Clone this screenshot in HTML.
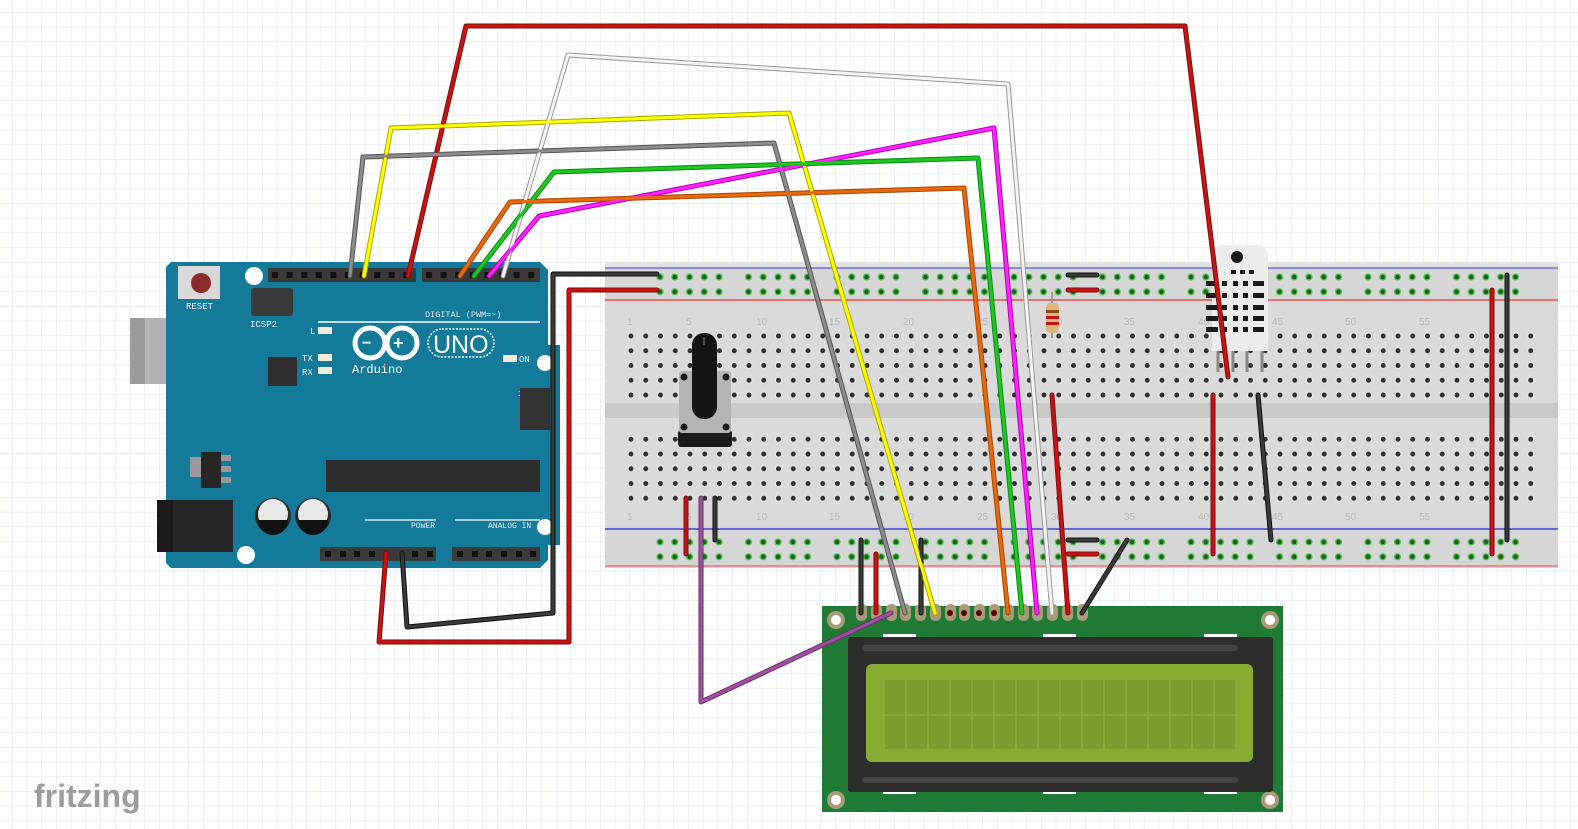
<!DOCTYPE html>
<html><head><meta charset="utf-8"><style>
html,body{margin:0;padding:0;width:1578px;height:829px;overflow:hidden;background:#fff}
svg{display:block}
.m{font-family:"Liberation Mono","DejaVu Sans Mono",monospace}
.s{font-family:"Liberation Sans",sans-serif}
</style></head><body>
<svg width="1578" height="829" viewBox="0 0 1578 829" xmlns="http://www.w3.org/2000/svg">
<defs>
<pattern id="grid" x="12" y="12" width="14.7" height="14.7" patternUnits="userSpaceOnUse">
<path d="M0 0H14.7M0 0V14.7" stroke="#dfe6ef" stroke-width="1.2" fill="none"/>
</pattern>
<pattern id="holes" x="623.6" y="328.6" width="14.75" height="14.75" patternUnits="userSpaceOnUse">
<circle cx="7.4" cy="7.4" r="3.6" fill="#e8e8e8"/><circle cx="7.4" cy="7.4" r="2.5" fill="#2f2f2f"/>
</pattern>
<pattern id="rail" x="652.6" y="269.6" width="88.5" height="14.75" patternUnits="userSpaceOnUse">
<g fill="#4ec04e"><circle cx="7.4" cy="7.4" r="3.6"/><circle cx="22.15" cy="7.4" r="3.6"/><circle cx="36.9" cy="7.4" r="3.6"/><circle cx="51.65" cy="7.4" r="3.6"/><circle cx="66.4" cy="7.4" r="3.6"/></g>
<g fill="#1d5a1d"><circle cx="7.4" cy="7.4" r="2.2"/><circle cx="22.15" cy="7.4" r="2.2"/><circle cx="36.9" cy="7.4" r="2.2"/><circle cx="51.65" cy="7.4" r="2.2"/><circle cx="66.4" cy="7.4" r="2.2"/></g>
</pattern>
<pattern id="rail2" x="652.6" y="534.6" width="88.5" height="14.75" patternUnits="userSpaceOnUse">
<g fill="#4ec04e"><circle cx="7.4" cy="7.4" r="3.6"/><circle cx="22.15" cy="7.4" r="3.6"/><circle cx="36.9" cy="7.4" r="3.6"/><circle cx="51.65" cy="7.4" r="3.6"/><circle cx="66.4" cy="7.4" r="3.6"/></g>
<g fill="#1d5a1d"><circle cx="7.4" cy="7.4" r="2.2"/><circle cx="22.15" cy="7.4" r="2.2"/><circle cx="36.9" cy="7.4" r="2.2"/><circle cx="51.65" cy="7.4" r="2.2"/><circle cx="66.4" cy="7.4" r="2.2"/></g>
</pattern>
<pattern id="pins" x="268" y="268" width="14.6" height="14" patternUnits="userSpaceOnUse">
<rect width="14.6" height="14" fill="#3a3a3a"/><rect x="4" y="4" width="6" height="6" fill="#111"/>
</pattern>
<pattern id="pins2" x="422" y="268" width="14.6" height="14" patternUnits="userSpaceOnUse">
<rect width="14.6" height="14" fill="#3a3a3a"/><rect x="4" y="4" width="6" height="6" fill="#111"/>
</pattern>
</defs>
<rect width="1578" height="829" fill="url(#grid)"/>

<!-- Breadboard -->
<rect x="605" y="262" width="953" height="306" fill="#d6d6d6"/>
<rect x="605" y="262" width="953" height="6" fill="#e2e2e2"/>
<rect x="605" y="302" width="953" height="224" fill="#dadada"/>
<rect x="605" y="403" width="953" height="15" fill="#c9c9c9"/>
<line x1="605" y1="268" x2="1558" y2="268" stroke="#5555ee" stroke-width="1.2"/>
<line x1="605" y1="300" x2="1558" y2="300" stroke="#ee3333" stroke-width="1.2"/>
<line x1="605" y1="529" x2="1558" y2="529" stroke="#2222dd" stroke-width="1.2"/>
<line x1="605" y1="566" x2="1558" y2="566" stroke="#ee6666" stroke-width="1.2"/>
<rect x="623.6" y="328.6" width="915" height="74" fill="url(#holes)"/>
<rect x="623.6" y="431.6" width="915" height="74" fill="url(#holes)"/>
<rect x="652.6" y="269.6" width="880" height="29.5" fill="url(#rail)"/>
<rect x="652.6" y="534.6" width="880" height="29.5" fill="url(#rail2)"/>
<g fill="#b8b8b8" font-size="10" class="s">
<text x="627" y="325">1</text><text x="686" y="325">5</text><text x="756" y="325">10</text><text x="829" y="325">15</text><text x="903" y="325">20</text><text x="977" y="325">25</text><text x="1051" y="325">30</text><text x="1124" y="325">35</text><text x="1198" y="325">40</text><text x="1272" y="325">45</text><text x="1345" y="325">50</text><text x="1419" y="325">55</text>
<text x="627" y="520">1</text><text x="686" y="520">5</text><text x="756" y="520">10</text><text x="829" y="520">15</text><text x="903" y="520">20</text><text x="977" y="520">25</text><text x="1051" y="520">30</text><text x="1124" y="520">35</text><text x="1198" y="520">40</text><text x="1272" y="520">45</text><text x="1345" y="520">50</text><text x="1419" y="520">55</text>
</g>

<!-- Arduino -->
<rect x="130" y="318" width="91" height="66" fill="#b3b3b3"/>
<rect x="130" y="318" width="15" height="66" fill="#9c9c9c"/>
<path d="M171 262H540L548 270V560L540 568H171L166 563V267Z" fill="#137b99"/>
<rect x="548" y="345" width="12" height="200" fill="#137b99"/>
<rect x="157" y="500" width="76" height="52" fill="#262626"/>
<rect x="157" y="500" width="16" height="52" fill="#1a1a1a"/>
<circle cx="254" cy="276" r="9" fill="#fff"/><circle cx="545" cy="363" r="8" fill="#fff"/><circle cx="545" cy="527" r="8" fill="#fff"/><circle cx="246" cy="555" r="9" fill="#fff"/>
<rect x="178" y="266" width="42" height="33" fill="#d8d8d8"/><circle cx="201" cy="283" r="10" fill="#8b2b2b"/>
<text x="186" y="309" font-size="9" fill="#e8eef2" class="m">RESET</text>
<rect x="251" y="288" width="42" height="28" fill="#3a3a3a" rx="3"/>
<text x="250" y="327" font-size="9" fill="#e8eef2" class="m">ICSP2</text>
<rect x="268" y="268" width="148" height="14" fill="url(#pins)"/>
<rect x="422" y="268" width="118" height="14" fill="url(#pins2)"/>
<line x1="318" y1="322" x2="540" y2="322" stroke="#fff" stroke-width="1.5"/>
<text x="425" y="317" font-size="8.5" fill="#e8eef2" class="m">DIGITAL (PWM=~)</text>
<g font-size="9" fill="#e8eef2" class="m">
<text x="310" y="334">L</text><text x="302" y="361">TX</text><text x="302" y="375">RX</text><text x="519" y="362">ON</text><text x="518" y="396">1</text>
</g>
<rect x="318" y="327" width="14" height="7" fill="#f0ecd8"/><rect x="318" y="354" width="14" height="7" fill="#f0ecd8"/><rect x="318" y="367" width="14" height="7" fill="#f0ecd8"/><rect x="503" y="355" width="14" height="7" fill="#f0ecd8"/>
<g fill="none" stroke="#fff" stroke-width="5"><circle cx="370" cy="343" r="15"/><circle cx="402" cy="343" r="15"/></g>
<text x="362" y="348" font-size="16" fill="#fff" font-weight="bold" class="s">−</text><text x="393" y="349" font-size="18" fill="#fff" font-weight="bold" class="s">+</text>
<rect x="428" y="329" width="66" height="28" rx="14" fill="none" stroke="#fff" stroke-width="1.5" stroke-dasharray="2 1.5"/>
<text x="433" y="353" font-size="25" fill="#fff" class="s">UNO</text>
<text x="352" y="373" font-size="12" fill="#fff" class="m">Arduino</text>
<rect x="268" y="357" width="29" height="29" fill="#2f2f2f"/>
<rect x="520" y="388" width="30" height="42" fill="#333"/>
<rect x="326" y="460" width="214" height="32" fill="#2e2e2e"/>
<rect x="190" y="457" width="12" height="20" fill="#9a9a9a"/><rect x="201" y="452" width="20" height="36" fill="#262626"/>
<rect x="221" y="455" width="10" height="6" fill="#999"/><rect x="221" y="466" width="10" height="6" fill="#999"/><rect x="221" y="477" width="10" height="6" fill="#999"/>
<circle cx="273" cy="516" r="18" fill="#2a2a2a"/><circle cx="273" cy="514" r="15" fill="#e8e8e8"/><path d="M258 520H288A15 15 0 0 1 258 520Z" fill="#111"/>
<circle cx="313" cy="516" r="18" fill="#2a2a2a"/><circle cx="313" cy="514" r="15" fill="#e8e8e8"/><path d="M298 520H328A15 15 0 0 1 298 520Z" fill="#111"/>
<line x1="365" y1="520" x2="436" y2="520" stroke="#fff" stroke-width="1.2"/><line x1="455" y1="520" x2="540" y2="520" stroke="#fff" stroke-width="1.2"/>
<text x="411" y="528" font-size="8" fill="#e8eef2" class="m">POWER</text><text x="488" y="528" font-size="8" fill="#e8eef2" class="m">ANALOG IN</text>
<rect x="320" y="547" width="116" height="14" fill="#3a3a3a"/><rect x="452" y="547" width="88" height="14" fill="#3a3a3a"/>
<g fill="#111"><rect x="325" y="551" width="6" height="6"/><rect x="340" y="551" width="6" height="6"/><rect x="354" y="551" width="6" height="6"/><rect x="369" y="551" width="6" height="6"/><rect x="412" y="551" width="6" height="6"/><rect x="427" y="551" width="6" height="6"/>
<rect x="457" y="551" width="6" height="6"/><rect x="472" y="551" width="6" height="6"/><rect x="486" y="551" width="6" height="6"/><rect x="501" y="551" width="6" height="6"/><rect x="516" y="551" width="6" height="6"/><rect x="530" y="551" width="6" height="6"/></g>

<!-- LCD -->
<rect x="822" y="606" width="461" height="206" fill="#1f7a35"/>
<g fill="#fff" stroke="#a89c78" stroke-width="4"><circle cx="836" cy="620" r="7"/><circle cx="1270" cy="620" r="7"/><circle cx="836" cy="800" r="7"/><circle cx="1270" cy="800" r="7"/></g>
<g fill="#fff"><rect x="883" y="634" width="33" height="3"/><rect x="1043" y="634" width="33" height="3"/><rect x="1204" y="634" width="33" height="3"/><rect x="883" y="791" width="33" height="3"/><rect x="1043" y="791" width="33" height="3"/><rect x="1204" y="791" width="33" height="3"/></g>
<rect x="848" y="637" width="425" height="155" fill="#2d2d2d" rx="3"/>
<rect x="862" y="645" width="376" height="6" rx="3" fill="#444"/><rect x="862" y="777" width="376" height="6" rx="3" fill="#444"/>
<rect x="866" y="664" width="387" height="98" rx="6" fill="#86ac32"/>
<g fill="#7b9c2f">
<rect x="885" y="680" width="350" height="34"/><rect x="885" y="716" width="350" height="33"/>
</g>
<g stroke="#86ac32" stroke-width="2">
<line x1="906" y1="678" x2="906" y2="751"/><line x1="928" y1="678" x2="928" y2="751"/><line x1="950" y1="678" x2="950" y2="751"/><line x1="972" y1="678" x2="972" y2="751"/><line x1="994" y1="678" x2="994" y2="751"/><line x1="1016" y1="678" x2="1016" y2="751"/><line x1="1038" y1="678" x2="1038" y2="751"/><line x1="1060" y1="678" x2="1060" y2="751"/><line x1="1082" y1="678" x2="1082" y2="751"/><line x1="1104" y1="678" x2="1104" y2="751"/><line x1="1126" y1="678" x2="1126" y2="751"/><line x1="1148" y1="678" x2="1148" y2="751"/><line x1="1170" y1="678" x2="1170" y2="751"/><line x1="1192" y1="678" x2="1192" y2="751"/><line x1="1214" y1="678" x2="1214" y2="751"/>
</g>
<g fill="#a89c78">
<rect x="856" y="604" width="11" height="17" rx="5"/><rect x="871" y="604" width="11" height="17" rx="5"/><rect x="886" y="604" width="11" height="17" rx="5"/><rect x="900" y="604" width="11" height="17" rx="5"/><rect x="915" y="604" width="11" height="17" rx="5"/><rect x="930" y="604" width="11" height="17" rx="5"/><rect x="945" y="604" width="11" height="17" rx="5"/><rect x="959" y="604" width="11" height="17" rx="5"/><rect x="974" y="604" width="11" height="17" rx="5"/><rect x="989" y="604" width="11" height="17" rx="5"/><rect x="1003" y="604" width="11" height="17" rx="5"/><rect x="1018" y="604" width="11" height="17" rx="5"/><rect x="1032" y="604" width="11" height="17" rx="5"/><rect x="1047" y="604" width="11" height="17" rx="5"/><rect x="1062" y="604" width="11" height="17" rx="5"/><rect x="1077" y="604" width="11" height="17" rx="5"/>
</g>
<g fill="#5a0000"><circle cx="950" cy="613" r="3"/><circle cx="964" cy="613" r="3"/><circle cx="979" cy="613" r="3"/><circle cx="994" cy="613" r="3"/></g>

<!-- Potentiometer -->
<rect x="678" y="430" width="54" height="17" rx="3" fill="#1c1c1c"/>
<rect x="679" y="371" width="52" height="62" rx="3" fill="#b5b5b5"/>
<g fill="#1c1c1c"><circle cx="684" cy="377" r="3.5"/><circle cx="726" cy="377" r="3.5"/><circle cx="684" cy="427" r="3.5"/><circle cx="726" cy="427" r="3.5"/></g>
<rect x="692" y="333" width="25" height="86" rx="12" fill="#151515"/>
<line x1="704" y1="337" x2="704" y2="345" stroke="#888" stroke-width="1"/>

<!-- Resistor -->
<line x1="1052" y1="292" x2="1052" y2="338" stroke="#999" stroke-width="2"/>
<rect x="1046" y="303" width="13" height="30" rx="4" fill="#d9b77a"/>
<g fill="#b8181a"><rect x="1046" y="316" width="13" height="3"/><rect x="1046" y="322" width="13" height="3"/></g><rect x="1046" y="310" width="13" height="3" fill="#8b4a1a"/>

<!-- DHT -->
<g stroke="#888" stroke-width="3"><line x1="1218" y1="345" x2="1218" y2="372"/><line x1="1233" y1="345" x2="1233" y2="372"/><line x1="1247" y1="345" x2="1247" y2="372"/><line x1="1262" y1="345" x2="1262" y2="372"/></g>
<path d="M1212 258Q1212 245 1225 245H1256Q1268 245 1268 258V351H1212Z" fill="#ececec"/>
<circle cx="1237" cy="257" r="6" fill="#1a1a1a"/>
<g fill="#1a1a1a"><rect x="1231" y="270" width="5" height="4"/><rect x="1240" y="270" width="5" height="4"/><rect x="1249" y="270" width="5" height="4"/></g>
<g fill="#1a1a1a">
<rect x="1206" y="281" width="12" height="5"/><rect x="1222" y="281" width="5" height="5"/><rect x="1233" y="281" width="5" height="5"/><rect x="1243" y="281" width="5" height="5"/><rect x="1253" y="281" width="11" height="5"/>
<rect x="1206" y="293" width="12" height="5"/><rect x="1222" y="293" width="5" height="5"/><rect x="1233" y="293" width="5" height="5"/><rect x="1243" y="293" width="5" height="5"/><rect x="1253" y="293" width="11" height="5"/>
<rect x="1206" y="305" width="12" height="5"/><rect x="1222" y="305" width="5" height="5"/><rect x="1233" y="305" width="5" height="5"/><rect x="1243" y="305" width="5" height="5"/><rect x="1253" y="305" width="11" height="5"/>
<rect x="1206" y="316" width="12" height="5"/><rect x="1222" y="316" width="5" height="5"/><rect x="1233" y="316" width="5" height="5"/><rect x="1243" y="316" width="5" height="5"/><rect x="1253" y="316" width="11" height="5"/>
<rect x="1206" y="327" width="12" height="5"/><rect x="1222" y="327" width="5" height="5"/><rect x="1233" y="327" width="5" height="5"/><rect x="1243" y="327" width="5" height="5"/><rect x="1253" y="327" width="11" height="5"/>
</g>

<!-- Wires -->
<g fill="none" stroke-linejoin="round" stroke-linecap="round" stroke-width="5">
<g stroke="#7a0d0d">
<polyline points="408,276 466,26 1185,26 1228,377"/>
<polyline points="657,290 569,290 569,642 379,642 386,553"/>
<polyline points="1068,290 1097,290"/><polyline points="1068,554 1097,554"/>
<polyline points="1052,395 1068,613"/><polyline points="1213,395 1213,554"/><polyline points="1492,290 1492,554"/>
<polyline points="686,498 686,554"/><polyline points="876,554 876,613"/>
</g>
<g stroke="#111">
<polyline points="657,274 553,274 553,613 407,627 402,553"/>
<polyline points="1068,275 1097,275"/><polyline points="1068,540 1097,540"/>
<polyline points="1127,540 1082,613"/><polyline points="1258,395 1271,540"/><polyline points="1507,275 1507,540"/>
<polyline points="715,498 715,540"/><polyline points="861,540 861,613"/><polyline points="921,540 921,613"/>
</g>
<polyline stroke="#999" points="503,276 568,55 1008,84 1052,613"/>
<polyline stroke="#a8a800" points="364,276 391,128 789,113 935,613"/>
<polyline stroke="#555" points="350,276 363,157 774,143 905,613"/>
<polyline stroke="#b000b0" points="489,276 539,216 994,128 1037,613"/>
<polyline stroke="#0a8a1a" points="474,276 554,172 978,158 1022,613"/>
<polyline stroke="#a84500" points="460,276 510,202 964,188 1008,613"/>
<polyline stroke="#6b2f6b" points="701,498 701,702 891,613"/>
</g>
<g fill="none" stroke-linejoin="round" stroke-linecap="round" stroke-width="3">
<g stroke="#cc1111">
<polyline points="408,276 466,26 1185,26 1228,377"/>
<polyline points="657,290 569,290 569,642 379,642 386,553"/>
<polyline points="1068,290 1097,290"/><polyline points="1068,554 1097,554"/>
<polyline points="1052,395 1068,613"/><polyline points="1213,395 1213,554"/><polyline points="1492,290 1492,554"/>
<polyline points="686,498 686,554"/><polyline points="876,554 876,613"/>
</g>
<g stroke="#3a3a3a">
<polyline points="657,274 553,274 553,613 407,627 402,553"/>
<polyline points="1068,275 1097,275"/><polyline points="1068,540 1097,540"/>
<polyline points="1127,540 1082,613"/><polyline points="1258,395 1271,540"/><polyline points="1507,275 1507,540"/>
<polyline points="715,498 715,540"/><polyline points="861,540 861,613"/><polyline points="921,540 921,613"/>
</g>
<polyline stroke="#f4f4f4" points="503,276 568,55 1008,84 1052,613"/>
<polyline stroke="#ffff00" points="364,276 391,128 789,113 935,613"/>
<polyline stroke="#8c8c8c" points="350,276 363,157 774,143 905,613"/>
<polyline stroke="#ff22ff" points="489,276 539,216 994,128 1037,613"/>
<polyline stroke="#1ec81e" points="474,276 554,172 978,158 1022,613"/>
<polyline stroke="#e86a0a" points="460,276 510,202 964,188 1008,613"/>
<polyline stroke="#a050a0" points="701,498 701,702 891,613"/>
</g>

<text x="34" y="807" font-size="32" font-weight="bold" fill="#9c9c9c" class="s">fritzing</text>
</svg>
</body></html>
